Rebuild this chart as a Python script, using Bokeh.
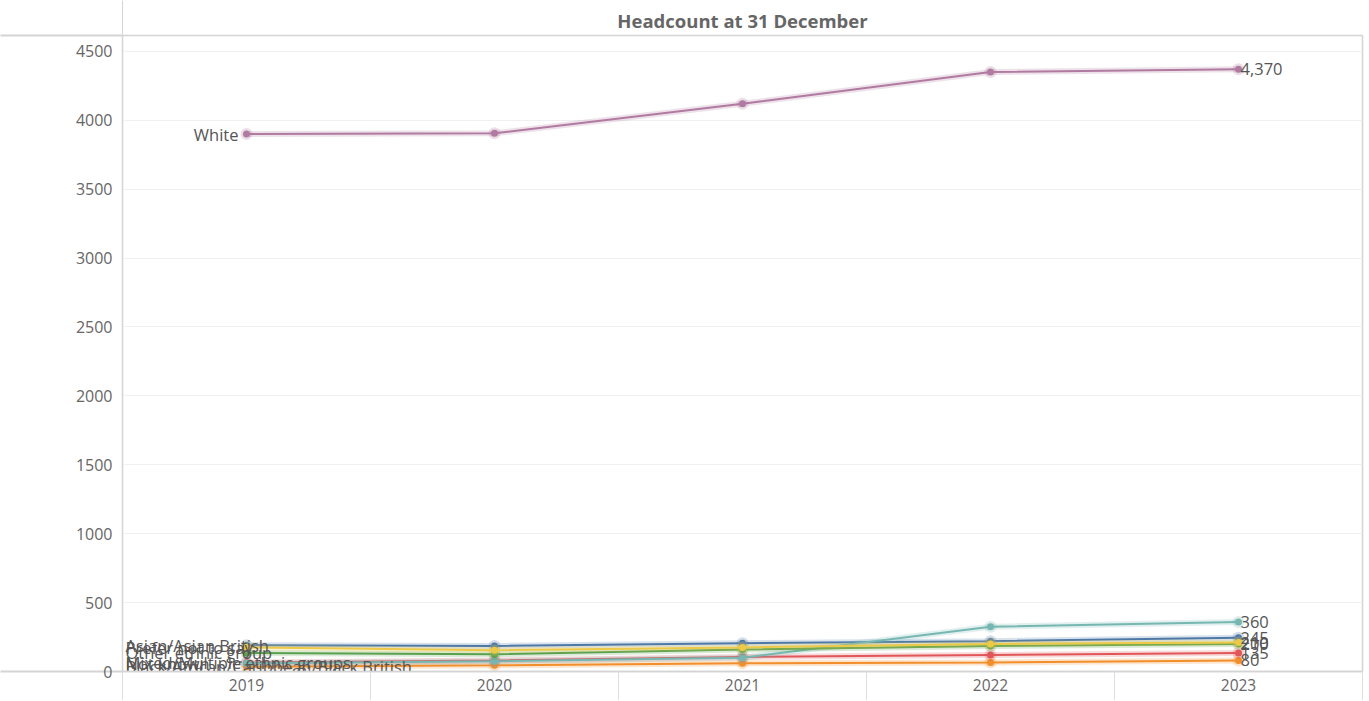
from bokeh.plotting import figure
from bokeh.models import Range1d, FixedTicker, LinearAxis, ColumnDataSource, Grid
from bokeh.core.properties import value
from bokeh.embed import file_html
from bokeh.resources import INLINE

# ---------------- data ----------------
years = [2019, 2020, 2021, 2022, 2023]
asian = [190, 185, 205, 220, 245]
black = [35, 45, 60, 65, 80]
mixed = [65, 80, 105, 120, 135]
not_known = [60, 75, 100, 325, 360]
other = [135, 125, 160, 185, 200]
prefer_not = [175, 155, 175, 200, 210]
white = [3900, 3905, 4120, 4350, 4370]

names = ["Asian/Asian British", "Black/African/Caribbean/Black British",
         "Mixed/Multiple ethnic groups", "Not known", "Other ethnic group",
         "Prefer not to say", "White"]
series = [asian, black, mixed, not_known, other, prefer_not, white]
colors = ["#4e79a7", "#f28e2b", "#e15759", "#76b7b2", "#59a14f", "#edc948", "#b07aa1"]

y_ticks = [0, 500, 1000, 1500, 2000, 2500, 3000, 3500, 4000, 4500]
y_tick_labels = ["0", "500", "1000", "1500", "2000", "2500", "3000", "3500", "4000", "4500"]
x_tick_labels = ["2019", "2020", "2021", "2022", "2023"]
title_text = "Headcount at 31 December"

# ---------------- layout constants ----------------
W, H = 1365, 700
TOP, BOTTOM, LEFT, RIGHT = 35, 29, 122, 3
X0, X1 = 2018.5, 2023.5
Y0, Y1 = 0, 4615
FONT = "Open Sans"
BORDER = "#d4d4d4"
TICK_FONT = "16px"
LABEL_FONT = "16.5px"

p = figure(width=W, height=H, output_backend="svg", toolbar_location=None,
           x_range=Range1d(X0, X1), y_range=Range1d(Y0, Y1),
           x_axis_type=None, y_axis_type=None,
           min_border_left=LEFT, min_border_right=RIGHT,
           min_border_top=TOP, min_border_bottom=BOTTOM,
           background_fill_color="white", border_fill_color="white")
p.outline_line_color = BORDER
p.outline_line_width = 1.5

# y axis (minor ticks at 0 and top draw the horizontal dividers into the margin)
yax = LinearAxis(ticker=FixedTicker(ticks=y_ticks, minor_ticks=[Y0 + 1, Y1 - 1]))
yax.major_label_overrides = {t: l for t, l in zip(y_ticks, y_tick_labels)}
yax.major_tick_out = 0
yax.major_tick_in = 0
yax.minor_tick_in = 0
yax.minor_tick_out = LEFT
yax.minor_tick_line_color = BORDER
yax.minor_tick_line_width = 2
yax.axis_line_color = BORDER
yax.major_label_standoff = -LEFT + 10
yax.major_label_text_font = FONT
yax.major_label_text_font_size = TICK_FONT
yax.major_label_text_color = "#666666"
p.add_layout(yax, "left")
p.add_layout(Grid(dimension=1, ticker=FixedTicker(ticks=y_ticks[1:]),
                  grid_line_color="#f0f0f0", grid_line_width=1))

# x axis (minor ticks draw the column dividers below the pane)
xax = LinearAxis(ticker=FixedTicker(ticks=years,
                                    minor_ticks=[X0 + 0.001, 2019.5, 2020.5, 2021.5, 2022.5, X1 - 0.001]))
xax.major_label_overrides = {t: l for t, l in zip(years, x_tick_labels)}
xax.major_tick_out = 0
xax.major_tick_in = 0
xax.minor_tick_in = 0
xax.minor_tick_out = BOTTOM
xax.minor_tick_line_color = "#dedede"
xax.axis_line_color = BORDER
xax.axis_line_width = 1.5
xax.major_label_standoff = -BOTTOM + 7
xax.major_label_text_font = FONT
xax.major_label_text_font_size = "15.5px"
xax.major_label_text_color = "#666666"
p.add_layout(xax, "below")

# header row: title centred over the pane, divider running up to the top
tax = LinearAxis(ticker=FixedTicker(ticks=[(X0 + X1) / 2], minor_ticks=[X0 + 0.001]))
tax.major_label_overrides = {(X0 + X1) / 2: title_text}
tax.axis_line_color = None
tax.major_tick_out = 0
tax.major_tick_in = 0
tax.minor_tick_in = 0
tax.minor_tick_out = TOP
tax.minor_tick_line_color = BORDER
tax.major_label_standoff = -TOP + 3
tax.major_label_text_font = FONT
tax.major_label_text_font_size = "18.5px"
tax.major_label_text_font_style = "bold"
tax.major_label_text_color = "#666666"
p.add_layout(tax, "above")

# lines
for name, vals, color in zip(names, series, colors):
    p.line(years, vals, line_color=color, line_width=6, line_alpha=0.22)
    p.line(years, vals, line_color=color, line_width=2)
    p.scatter(years, vals, size=12, fill_color=color, fill_alpha=0.25, line_color=None)
    p.scatter(years, vals, size=7, fill_color=color, line_color=None)

# right labels
right_src = ColumnDataSource(dict(x=[years[-1]] * len(series), y=[s[-1] for s in series],
                                  t=[f"{s[-1]:,}" for s in series]))
p.text(x="x", y="y", text="t", source=right_src, x_offset=2, text_align="left",
       text_baseline="middle", text_font=value(FONT), text_font_size=LABEL_FONT, text_color="#555555")

# left label for White (fits left of point)
white_src = ColumnDataSource(dict(x=[years[0]], y=[white[0]], t=[names[-1]]))
p.text(x="x", y="y", text="t", source=white_src, x_offset=-8, text_align="right",
       text_baseline="middle", text_font=value(FONT), text_font_size=LABEL_FONT, text_color="#555555")

# left labels for small groups (pushed inside pane)
left_src = ColumnDataSource(dict(x=[X0] * (len(series) - 1), y=[s[0] for s in series[:-1]],
                                 t=names[:-1]))
p.text(x="x", y="y", text="t", source=left_src, x_offset=3, text_align="left",
       text_baseline="middle", text_font=value(FONT), text_font_size=LABEL_FONT, text_color="#555555")

open("out.html", "w").write(file_html(p, INLINE))
